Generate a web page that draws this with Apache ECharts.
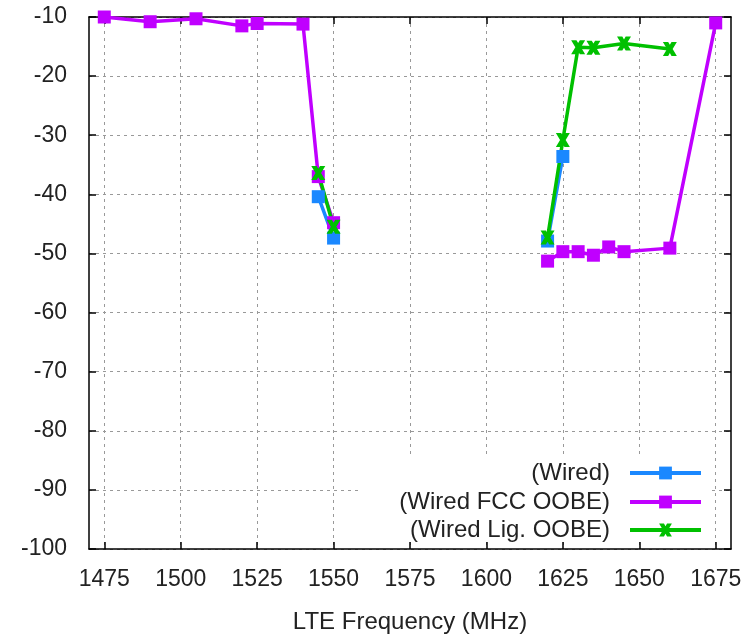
<!DOCTYPE html>
<html>
<head>
<meta charset="utf-8">
<script src="https://cdn.jsdelivr.net/npm/echarts@6/dist/echarts.min.js"></script>
<style>
  html, body { margin: 0; padding: 0; background: #fff; }
  #chart { width: 753px; height: 635px; }
</style>
</head>
<body>
<div id="chart"></div>
<script>
// frequency ticks (MHz)
const freqTicks = [1475, 1500, 1525, 1550, 1575, 1600, 1625, 1650, 1675];

// null = break in the line
const wiredFreq = [1545, 1550, null, 1620, 1625];
const wiredLoss = [-40.4, -47.4, null, -47.9, -33.6];

const fccFreq = [1475, 1490, 1505, 1520, 1525, 1540, 1545, 1550, null, 1620, 1625, 1630, 1635, 1640, 1645, 1660, 1675];
const fccLoss = [-10.0, -10.8, -10.3, -11.5, -11.1, -11.2, -37.0, -44.8, null, -51.3, -49.7, -49.7, -50.3, -48.9, -49.7, -49.1, -11.0];

const ligFreq = [1545, 1550, null, 1620, 1625, 1630, 1635, 1645, 1660];
const ligLoss = [-36.4, -45.5, null, -47.3, -30.8, -15.1, -15.2, -14.5, -15.4];

const names = ['(Wired)', '(Wired FCC OOBE)', '(Wired Lig. OOBE)'];

function pairs(xs, ys) {
  return xs.map((x, i) => (x === null || ys[i] === null) ? ['-', '-'] : [x, ys[i]]);
}

const font = 'Liberation Sans, Arial, sans-serif';
// bold "x" marker
const crossPath = 'path://M0,0 L3.8,0 L5,2 L6.2,0 L10,0 L7,5 L10,10 L6.2,10 L5,8 L3.8,10 L0,10 L3,5 Z';

let chart = echarts.init(document.getElementById('chart'));

function legendRow(name, top) {
  return {
    data: [name],
    right: 50,
    top: top,
    padding: 0,
    align: 'right',
    itemWidth: 71,
    itemHeight: 16,
    selectedMode: false,
    lineStyle: { width: 4 },
    textStyle: { fontFamily: font, fontSize: 24, color: '#222', padding: [0, 15, 0, 0] }
  };
}

const xCommon = {
  type: 'value',
  min: 1470,
  max: 1680,
  axisLine: { show: true, lineStyle: { color: '#000', width: 1.5 } },
  axisTick: { inside: true, length: 7, customValues: freqTicks, lineStyle: { color: '#000', width: 1.5 } }
};
const yCommon = {
  type: 'value',
  min: -100,
  max: -10,
  interval: 10,
  axisLine: { show: true, lineStyle: { color: '#000', width: 1.5 } },
  axisTick: { inside: true, length: 7, lineStyle: { color: '#000', width: 1.5 } }
};

chart.setOption({
  animation: false,
  grid: { left: 89, right: 22, top: 17, bottom: 86, outerBoundsMode: 'none' },
  graphic: [{
    type: 'rect',
    left: 358, top: 458, z: 1,
    shape: { width: 352, height: 83 },
    style: { fill: '#fff' }
  }],
  legend: [legendRow(names[0], 461), legendRow(names[1], 490), legendRow(names[2], 518)],
  xAxis: [
    Object.assign({}, xCommon, {
      position: 'bottom',
      axisLabel: { customValues: freqTicks, formatter: v => String(v), margin: 19, fontFamily: font, fontSize: 23, color: '#222' },
      splitLine: { show: true, lineStyle: { color: '#999', type: [3, 4], width: 1 } },
      name: 'LTE Frequency (MHz)',
      nameLocation: 'middle',
      nameGap: 61,
      nameTextStyle: { fontFamily: font, fontSize: 24, color: '#222' }
    }),
    Object.assign({}, xCommon, {
      position: 'top',
      axisLabel: { show: false },
      splitLine: { show: false }
    })
  ],
  yAxis: [
    Object.assign({}, yCommon, {
      position: 'left',
      axisLabel: { margin: 22, fontFamily: font, fontSize: 23, color: '#222' },
      splitLine: { show: true, lineStyle: { color: '#999', type: [3, 4], width: 1 } }
    }),
    Object.assign({}, yCommon, {
      position: 'right',
      axisLabel: { show: false },
      splitLine: { show: false }
    })
  ],
  series: [
    {
      name: names[0],
      type: 'line',
      data: pairs(wiredFreq, wiredLoss),
      color: '#1a88ff',
      symbol: 'rect',
      symbolSize: 13,
      lineStyle: { width: 3.5 },
      connectNulls: false
    },
    {
      name: names[1],
      type: 'line',
      data: pairs(fccFreq, fccLoss),
      color: '#c000ff',
      symbol: 'rect',
      symbolSize: 13,
      lineStyle: { width: 3.5 },
      connectNulls: false
    },
    {
      name: names[2],
      type: 'line',
      data: pairs(ligFreq, ligLoss),
      color: '#00c000',
      symbol: crossPath,
      symbolSize: 14,
      lineStyle: { width: 3.5 },
      connectNulls: false
    }
  ]
});
</script>
</body>
</html>
